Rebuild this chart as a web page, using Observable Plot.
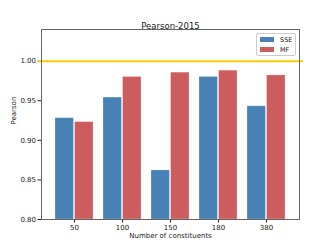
<!DOCTYPE html>
<html><head><meta charset="utf-8">
<script src="https://cdn.jsdelivr.net/npm/d3@7"></script>
<script src="https://cdn.jsdelivr.net/npm/@observablehq/plot@0.6"></script>
<style>
body{margin:0;background:#fff;font-family:"DejaVu Sans",sans-serif;}
#wrap{position:relative;width:332px;height:247px;}
#legend{position:absolute;left:256px;top:33px;width:38px;height:21px;border:1px solid #ccc;border-radius:2px;background:#fff;font-size:6.5px;color:#222;}
#legend div{display:flex;align-items:center;height:9px;margin-top:1px;padding-left:3px;}
#legend span.sw{display:inline-block;width:14px;height:5px;margin-right:6px;}
</style></head><body>
<div id="wrap"></div>
<script>
const categories = ["50","100","150","180","380"];
const sse = [0.928, 0.954, 0.862, 0.980, 0.943];
const mf  = [0.923, 0.980, 0.9855, 0.988, 0.982];
const yTicks = [0.80, 0.85, 0.90, 0.95, 1.00];
const series = ["SSE","MF"];
const colors = {SSE:"#4682b4", MF:"#cd5c5c"};

const rows = [];
categories.forEach((c,i)=>{ rows.push({cat:c, s:"SSE", v:sse[i]}); rows.push({cat:c, s:"MF", v:mf[i]}); });

const W=332,H=247, ml=41, mr=33, mt=29, mb=28;
const n=categories.length, pi=0.2, po=0.233;
const step=(W-ml-mr)/(n-pi+2*po), band=step*(1-pi), half=band/2;

const plot = Plot.plot({
  width:W, height:H, marginLeft:ml, marginRight:mr, marginTop:mt, marginBottom:mb,
  style:{fontFamily:"DejaVu Sans", fontSize:"7px", color:"#222", background:"#fff"},
  x:{type:"band", domain:categories, paddingInner:pi, paddingOuter:po, label:null, tickSize:3.5, tickPadding:2},
  y:{domain:[0.8,1.04], ticks:yTicks, tickFormat:d3.format(".2f"), label:null, tickSize:3.5, tickPadding:2},
  marks:[
    Plot.barY(rows.filter(d=>d.s==="SSE"), {x:"cat", y1:0.8, y2:"v", fill:colors.SSE, insetRight:half, stroke:"#fff", strokeOpacity:0.3, strokeWidth:0.8}),
    Plot.barY(rows.filter(d=>d.s==="MF"), {x:"cat", y1:0.8, y2:"v", fill:colors.MF, insetLeft:half, stroke:"#fff", strokeOpacity:0.3, strokeWidth:0.8}),
    Plot.ruleY([1], {stroke:"#ffcc00", strokeWidth:2, insetLeft:-3, insetRight:-4}),
    Plot.frame({stroke:"#666", strokeWidth:1}),
    Plot.text(["Pearson-2015"], {frameAnchor:"top", dy:-7, fontSize:8.5, fill:"#222"}),
    Plot.text(["Number of constituents"], {frameAnchor:"bottom", dy:18, fontSize:7, fill:"#222"}),
    Plot.text(["Pearson"], {frameAnchor:"left", dx:-28, rotate:-90, fontSize:7, fill:"#222"})
  ]
});
document.getElementById("wrap").appendChild(plot);
const lg = document.createElement("div"); lg.id="legend";
series.forEach(s=>{ const r=document.createElement("div"); r.innerHTML=`<span class="sw" style="background:${colors[s]}"></span>${s}`; lg.appendChild(r); });
document.getElementById("wrap").appendChild(lg);
</script>
</body></html>
